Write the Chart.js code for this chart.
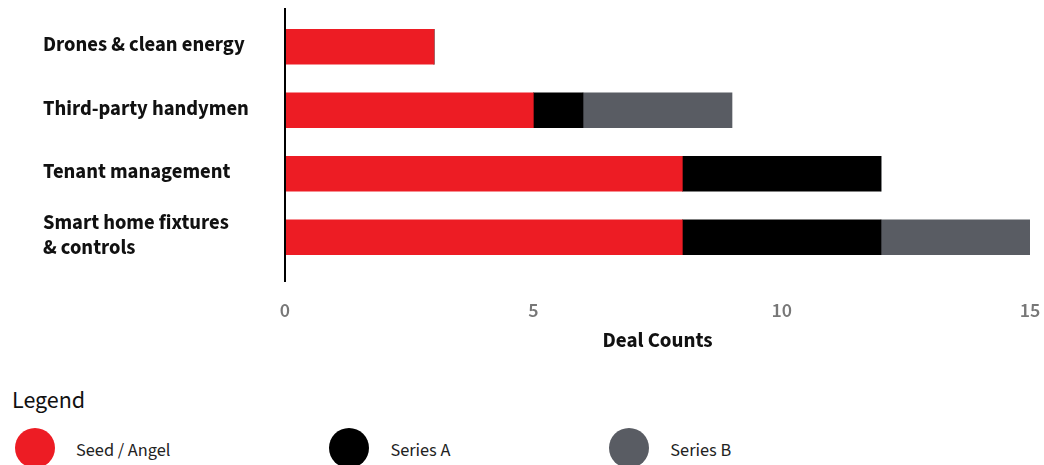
<!DOCTYPE html>
<html>
<head>
<meta charset="utf-8">
<script src="https://cdn.jsdelivr.net/npm/chart.js@4.4.1/dist/chart.umd.min.js"></script>
<style>
  html, body { margin: 0; padding: 0; background: #ffffff; }
  body { width: 1044px; height: 465px; overflow: hidden; position: relative;
         font-family: "Source Sans Pro", "Source Sans 3", Lato, "Noto Sans", sans-serif; }
  #wrap { position: absolute; left: 0; top: 0; width: 1044px; height: 360px; }
  #legend-title { position: absolute; left: 12px; top: 386px; font-size: 24px; color: #111; line-height: 30px; }
  #legend { position: absolute; left: 15px; top: 428px; display: flex; align-items: center; }
  .item { display: flex; align-items: center; margin-right: 159px; }
  .dot { width: 40px; height: 40px; border-radius: 50%; margin-right: 21px; }
  .lbl { font-size: 18.3px; color: #222; position: relative; top: 2px; }
</style>
</head>
<body>
<div id="wrap"><canvas id="chart"></canvas></div>
<div id="legend-title">Legend</div>
<div id="legend"></div>
<script>
// Sectors (y-axis) and deal counts per funding stage
const categories = [
  "Drones & clean energy",
  "Third-party handymen",
  "Tenant management",
  ["Smart home fixtures", "& controls"]
];
const seriesNames = ["Seed / Angel", "Series A", "Series B"];
const seedAngel = [3, 5, 8, 8];
const seriesA   = [0, 1, 4, 4];
const seriesB   = [0, 3, 0, 3];
const xTicks    = [0, 5, 10, 15];

const colors = ["#ED1C24", "#000000", "#595C63"];
const FONT = '"Source Sans Pro", "Source Sans 3", Lato, "Noto Sans", sans-serif';

// Vertical axis line drawn a little past the plot area, as in the house style
const axisLine = {
  id: 'axisLine',
  afterDraw(chart) {
    const { ctx } = chart;
    const x = chart.scales.x.getPixelForValue(0);
    ctx.save();
    ctx.strokeStyle = '#000';
    ctx.lineWidth = 2;
    ctx.beginPath();
    ctx.moveTo(x, 8);
    ctx.lineTo(x, 282);
    ctx.stroke();
    ctx.restore();
  }
};

const series = [seedAngel, seriesA, seriesB];
new Chart(document.getElementById('chart'), {
  type: 'bar',
  data: {
    labels: categories,
    datasets: seriesNames.map((name, i) => ({
      label: name,
      data: series[i],
      backgroundColor: colors[i],
      borderWidth: 0,
      barThickness: 35
    }))
  },
  options: {
    indexAxis: 'y',
    responsive: true,
    maintainAspectRatio: false,
    animation: false,
    layout: { padding: { left: 43, right: 14, top: 15, bottom: 0 } },
    plugins: { legend: { display: false }, tooltip: { enabled: false } },
    scales: {
      x: {
        stacked: true,
        min: 0, max: 15,
        afterBuildTicks(scale) { scale.ticks = xTicks.map(v => ({ value: v })); },
        afterFit(scale) { scale.height = 91; scale.paddingLeft = 0; scale.paddingRight = 0; },
        grid: { display: false, drawTicks: false },
        border: { display: false },
        ticks: { color: '#777777', padding: 32, font: { family: FONT, size: 20, weight: '600' } },
        title: { display: true, text: 'Deal Counts', color: '#111',
                 font: { family: FONT, size: 21, weight: 'bold' }, padding: { top: 0, bottom: 5 } }
      },
      y: {
        stacked: true,
        afterFit(scale) { scale.width = 242; scale.paddingTop = 0; scale.paddingBottom = 0; },
        grid: { display: false, drawTicks: false },
        border: { display: false },
        ticks: { crossAlign: 'far', color: '#111', padding: 0,
                 font: { family: FONT, size: 20.6, weight: 'bold', lineHeight: 1.22 } }
      }
    }
  },
  plugins: [axisLine]
});

// HTML legend
const legend = document.getElementById('legend');
seriesNames.forEach((name, i) => {
  const item = document.createElement('div');
  item.className = 'item';
  const dot = document.createElement('div');
  dot.className = 'dot';
  dot.style.background = colors[i];
  const lbl = document.createElement('span');
  lbl.className = 'lbl';
  lbl.textContent = name;
  item.appendChild(dot);
  item.appendChild(lbl);
  legend.appendChild(item);
});
</script>
</body>
</html>
